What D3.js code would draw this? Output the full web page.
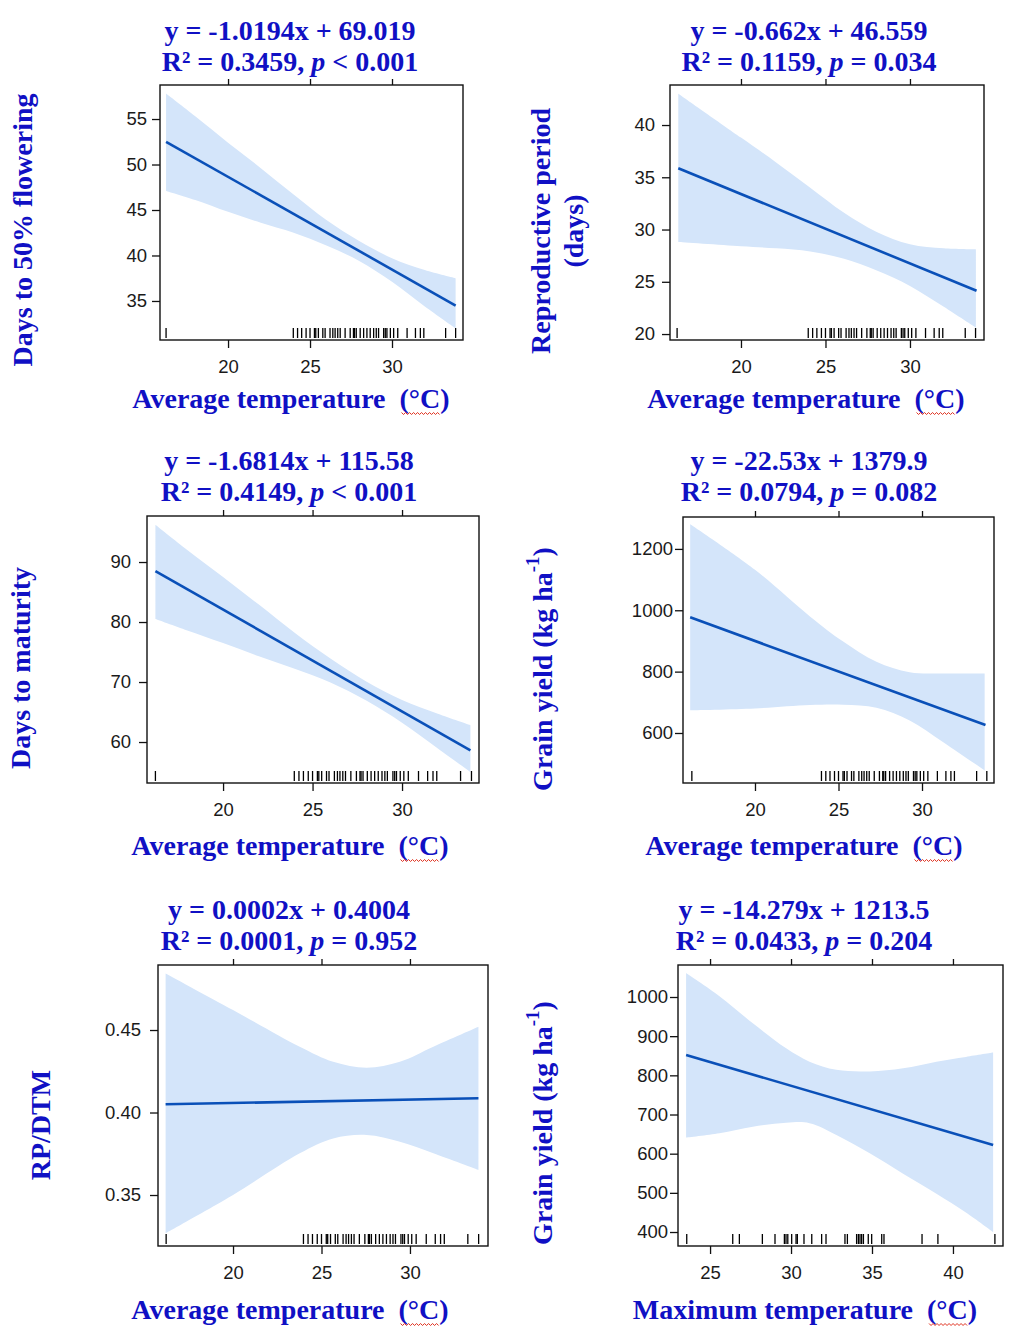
<!DOCTYPE html>
<html>
<head>
<meta charset="utf-8">
<script src="https://cdn.jsdelivr.net/npm/d3@7"></script>
<style>
  body { margin: 0; background: #fff; }
  svg { display: block; }
  text { white-space: pre; }
</style>
</head>
<body>
<svg id="chart" width="1020" height="1339"></svg>
<script>
// ---- data ----
// rug of observed average temperatures (same sites in panels 1-5)
const avgRug = [16.22, 23.98, 24.24, 24.49, 24.76, 25.0, 25.27, 25.35, 25.51, 25.78, 25.92, 26.22,
  26.39, 26.53, 26.69, 26.84, 27.14, 27.45, 27.65, 27.71, 27.82, 28.06, 28.27, 28.47, 28.67,
  28.88, 29.04, 29.18, 29.49, 29.59, 29.69, 29.9, 30.1, 30.35, 30.92, 31.43, 31.73, 31.94, 33.27, 33.88];
// rug of observed maximum temperatures (panel 6)
const maxRug = [23.56, 26.4, 26.81, 28.23, 29.01, 29.59, 29.69, 29.8, 30.04, 30.31, 30.39, 30.8,
  31.28, 31.89, 32.16, 33.33, 33.48, 34.05, 34.16, 34.26, 34.36, 34.47, 34.77, 34.98, 35.6,
  35.74, 38.09, 39.07, 42.59];

// Days to 50% flowering
const flowerLineX = [16.22, 33.88];
const flowerLineY = [52.5, 34.5];
const flowerBandX = [16.22, 18, 20, 22, 24, 26, 28, 30, 32, 33.88];
const flowerBandHi = [57.8, 55.3, 52.4, 49.6, 46.7, 43.9, 41.6, 39.7, 38.4, 37.5];
const flowerBandLo = [47.1, 46.1, 44.8, 43.6, 42.5, 41.1, 39.4, 37.1, 34.4, 32.0];

// Reproductive period (days)
const rpLineX = [16.29, 33.94];
const rpLineY = [35.86, 24.14];
const rpBandX = [16.29, 20, 22.1, 24.1, 26.1, 28.0, 30, 32, 33.9];
const rpBandHi = [43.0, 38.8, 36.4, 34.0, 31.6, 29.8, 28.6, 28.2, 28.1];
const rpBandLo = [28.8, 28.4, 28.2, 27.9, 27.2, 26.1, 24.6, 22.6, 20.6];

// Days to maturity
const dtmLineX = [16.22, 33.82];
const dtmLineY = [88.5, 58.6];
const dtmBandX = [16.22, 18, 20, 22, 24, 26, 28, 30, 32, 33.82];
const dtmBandHi = [96.2, 92.0, 87.5, 82.9, 78.2, 73.9, 70.1, 67.0, 64.7, 62.8];
const dtmBandLo = [80.5, 78.6, 76.5, 74.3, 72.2, 69.9, 66.9, 63.2, 58.9, 55.0];

// Grain yield vs average temperature
const gyaLineX = [16.12, 33.8];
const gyaLineY = [977, 626];
const gyaBandX = [16.12, 20, 23.29, 25.28, 27.27, 29.26, 31.25, 33.75];
const gyaBandHi = [1280, 1132, 980, 898, 832, 798, 794, 794];
const gyaBandLo = [674, 680, 691, 692, 682, 641, 571, 478];

// RP/DTM
const ratioLineX = [16.19, 33.87];
const ratioLineY = [0.405, 0.4086];
const ratioBandX = [16.19, 20, 23.77, 25.66, 27.55, 29.43, 31.32, 33.87];
const ratioBandHi = [0.4843, 0.4621, 0.4399, 0.4308, 0.4272, 0.4308, 0.4399, 0.452];
const ratioBandLo = [0.3268, 0.35, 0.3753, 0.3843, 0.3864, 0.3823, 0.3753, 0.3652];

// Grain yield vs maximum temperature
const gymLineX = [23.52, 42.48];
const gymLineY = [852, 622];
const gymBandX = [23.52, 25.58, 27.64, 29.7, 31.14, 32.8, 34.86, 36.92, 38.98, 40.8, 42.48];
const gymBandHi = [1061, 1002, 933, 869, 835, 814, 810, 818, 835, 847, 858];
const gymBandLo = [641, 652, 669, 679, 678, 648, 601, 549, 498, 450, 400];

// regression annotations
const equations = ["y = -1.0194x + 69.019", "y = -0.662x + 46.559", "y = -1.6814x + 115.58",
  "y = -22.53x + 1379.9", "y = 0.0002x + 0.4004", "y = -14.279x + 1213.5"];
const r2Values = ["0.3459", "0.1159", "0.4149", "0.0794", "0.0001", "0.0433"];
const pValues = ["< 0.001", "= 0.034", "< 0.001", "= 0.082", "= 0.952", "= 0.204"];

// tick labels
const avgTicks = [20, 25, 30];
const maxTicks = [25, 30, 35, 40];
const flowerTicks = [35, 40, 45, 50, 55];
const rpTicks = [20, 25, 30, 35, 40];
const dtmTicks = [60, 70, 80, 90];
const gyaTicks = [600, 800, 1000, 1200];
const ratioTicks = [0.35, 0.40, 0.45];
const gymTicks = [400, 500, 600, 700, 800, 900, 1000];

// ---- layout ----
const BLUE = "#1010c4";
const SERIF = "'Liberation Serif', 'Times New Roman', serif";
const SANS = "'Liberation Sans', Arial, sans-serif";

const panels = [
  { box: [160, 85, 463, 340], xDom: [15.85, 34.33], yDom: [30.71, 58.74], xTicks: avgTicks, yTicks: flowerTicks, yFmt: d3.format("d"), yPad: 5,
    lx: flowerLineX, ly: flowerLineY, bx: flowerBandX, hi: flowerBandHi, lo: flowerBandLo, rug: avgRug,
    titleX: 290, titleY: [40, 71], yLab: [["Days to 50% flowering"]], yLabX: [22], yLabY: 230,
    xLab: "Average temperature", xLabX: 291, xLabY: 408 },
  { box: [670, 85, 984, 340], xDom: [15.8, 34.38], yDom: [19.43, 43.83], xTicks: avgTicks, yTicks: rpTicks, yFmt: d3.format("d"), yPad: 7,
    lx: rpLineX, ly: rpLineY, bx: rpBandX, hi: rpBandHi, lo: rpBandLo, rug: avgRug,
    titleX: 809, titleY: [40, 71], yLab: [["Reproductive period"], ["(days)"]], yLabX: [540, 573], yLabY: 231,
    xLab: "Average temperature", xLabX: 806, xLabY: 408 },
  { box: [147, 516, 479, 783], xDom: [15.75, 34.3], yDom: [53.17, 97.67], xTicks: avgTicks, yTicks: dtmTicks, yFmt: d3.format("d"), yPad: 8,
    lx: dtmLineX, ly: dtmLineY, bx: dtmBandX, hi: dtmBandHi, lo: dtmBandLo, rug: avgRug,
    titleX: 289, titleY: [470, 501], yLab: [["Days to maturity"]], yLabX: [20], yLabY: 668,
    xLab: "Average temperature", xLabX: 290, xLabY: 855 },
  { box: [683, 517, 994, 783], xDom: [15.69, 34.31], yDom: [437, 1304], xTicks: avgTicks, yTicks: gyaTicks, yFmt: d3.format("d"), yPad: 2,
    lx: gyaLineX, ly: gyaLineY, bx: gyaBandX, hi: gyaBandHi, lo: gyaBandLo, rug: avgRug,
    titleX: 809, titleY: [470, 501], yLab: "yield", yLabX: [542], yLabY: 669,
    xLab: "Average temperature", xLabX: 804, xLabY: 855 },
  { box: [158, 965, 488, 1246], xDom: [15.76, 34.41], yDom: [0.3191, 0.4894], xTicks: avgTicks, yTicks: ratioTicks, yFmt: d3.format(".2f"), yPad: 9,
    lx: ratioLineX, ly: ratioLineY, bx: ratioBandX, hi: ratioBandHi, lo: ratioBandLo, rug: avgRug,
    titleX: 289, titleY: [919, 950], yLab: [["RP/DTM"]], yLabX: [40], yLabY: 1125,
    xLab: "Average temperature", xLabX: 290, xLabY: 1319 },
  { box: [678, 965, 1003, 1246], xDom: [23.02, 43.09], yDom: [364.3, 1081.7], xTicks: maxTicks, yTicks: gymTicks, yFmt: d3.format("d"), yPad: 2,
    lx: gymLineX, ly: gymLineY, bx: gymBandX, hi: gymBandHi, lo: gymBandLo, rug: maxRug,
    titleX: 804, titleY: [919, 950], yLab: "yield", yLabX: [542], yLabY: 1123,
    xLab: "Maximum temperature", xLabX: 805, xLabY: 1319 }
];

const svg = d3.select("#chart");
svg.append("rect").attr("width", 1020).attr("height", 1339).attr("fill", "#fff");

panels.forEach((p, i) => {
  const [x0, y0, x1, y1] = p.box;
  const x = d3.scaleLinear().domain(p.xDom).range([x0, x1]);
  const y = d3.scaleLinear().domain(p.yDom).range([y1, y0]);
  const g = svg.append("g");

  // confidence band
  const band = p.bx.map((v, k) => ({ x: v, lo: p.lo[k], hi: p.hi[k] }));
  g.append("path")
    .datum(band)
    .attr("fill", "#d4e5fa")
    .attr("d", d3.area().x(d => x(d.x)).y0(d => y(d.lo)).y1(d => y(d.hi)).curve(d3.curveCatmullRom.alpha(0.5)));

  // fitted line
  const fit = p.lx.map((v, k) => ({ x: v, y: p.ly[k] }));
  g.append("path")
    .datum(fit)
    .attr("fill", "none")
    .attr("stroke", "#0a50b8")
    .attr("stroke-width", 2.6)
    .attr("d", d3.line().x(d => x(d.x)).y(d => y(d.y)));

  // rug
  g.selectAll("line.rug")
    .data(p.rug)
    .enter().append("line")
      .attr("class", "rug")
      .attr("x1", d => x(d)).attr("x2", d => x(d))
      .attr("y1", y1 - 2).attr("y2", y1 - 12)
      .attr("stroke", "#000").attr("stroke-width", 1.3);

  // box
  g.append("rect")
    .attr("x", x0).attr("y", y0).attr("width", x1 - x0).attr("height", y1 - y0)
    .attr("fill", "none").attr("stroke", "#111").attr("stroke-width", 1.4);

  // axes
  const ax = g.append("g").attr("transform", `translate(0,${y1})`)
    .call(d3.axisBottom(x).tickValues(p.xTicks).tickSize(8).tickPadding(12).tickFormat(d3.format("d")));
  const at = g.append("g").attr("transform", `translate(0,${y0})`)
    .call(d3.axisTop(x).tickValues(p.xTicks).tickSize(6).tickFormat(""));
  const ay = g.append("g").attr("transform", `translate(${x0},0)`)
    .call(d3.axisLeft(y).tickValues(p.yTicks).tickSize(8).tickPadding(p.yPad).tickFormat(p.yFmt));
  [ax, at, ay].forEach(a => {
    a.select(".domain").remove();
    a.selectAll("line").attr("stroke", "#111").attr("stroke-width", 1.3);
    a.selectAll("text").attr("fill", "#1a1a1a").style("font-family", SANS).style("font-size", "18.5px");
  });

  // title: equation and statistics
  const tt = g.append("g").style("font-family", SERIF).style("font-weight", "bold")
    .style("font-size", "28px").attr("fill", BLUE).attr("text-anchor", "middle");
  tt.append("text").attr("x", p.titleX).attr("y", p.titleY[0]).text(equations[i]);
  const t2 = tt.append("text").attr("x", p.titleX).attr("y", p.titleY[1]);
  t2.append("tspan").text(`R² = ${r2Values[i]}, `);
  t2.append("tspan").style("font-style", "italic").text("p");
  t2.append("tspan").text(` ${pValues[i]}`);

  // y label
  const yl = g.append("g").style("font-family", SERIF).style("font-weight", "bold")
    .style("font-size", "28px").attr("fill", BLUE).attr("text-anchor", "middle");
  if (p.yLab === "yield") {
    const t = yl.append("text")
      .attr("transform", `translate(${p.yLabX[0]},${p.yLabY}) rotate(-90)`)
      .attr("dominant-baseline", "central");
    t.append("tspan").text("Grain yield (kg ha");
    t.append("tspan").attr("dy", -10).style("font-size", "19px").text("-1");
    t.append("tspan").attr("dy", 10).text(")");
  } else {
    p.yLab.forEach((lab, k) => {
      yl.append("text")
        .attr("transform", `translate(${p.yLabX[k]},${p.yLabY}) rotate(-90)`)
        .attr("dominant-baseline", "central")
        .text(lab[0]);
    });
  }

  // x label
  const xl = g.append("text")
    .attr("x", p.xLabX).attr("y", p.xLabY)
    .attr("text-anchor", "middle")
    .style("font-family", SERIF).style("font-weight", "bold").style("font-size", "28px")
    .attr("fill", BLUE);
  xl.append("tspan").text(p.xLab + "  ");
  const unit = xl.append("tspan").text("(°C)");

  // red spell-check squiggle under the unit
  const bb = xl.node().getBBox();
  const uw = unit.node().getComputedTextLength();
  const sx0 = bb.x + bb.width - uw + 2, sx1 = bb.x + bb.width - uw * 0.2;
  const pts = [];
  for (let k = 0, xx = sx0; xx <= sx1; k++, xx += 2) pts.push([xx, p.xLabY + 5 + (k % 2 ? 1.5 : -0.5)]);
  g.append("path").attr("d", d3.line()(pts)).attr("fill", "none")
    .attr("stroke", "#e0301e").attr("stroke-width", 1);
});
</script>
</body>
</html>
